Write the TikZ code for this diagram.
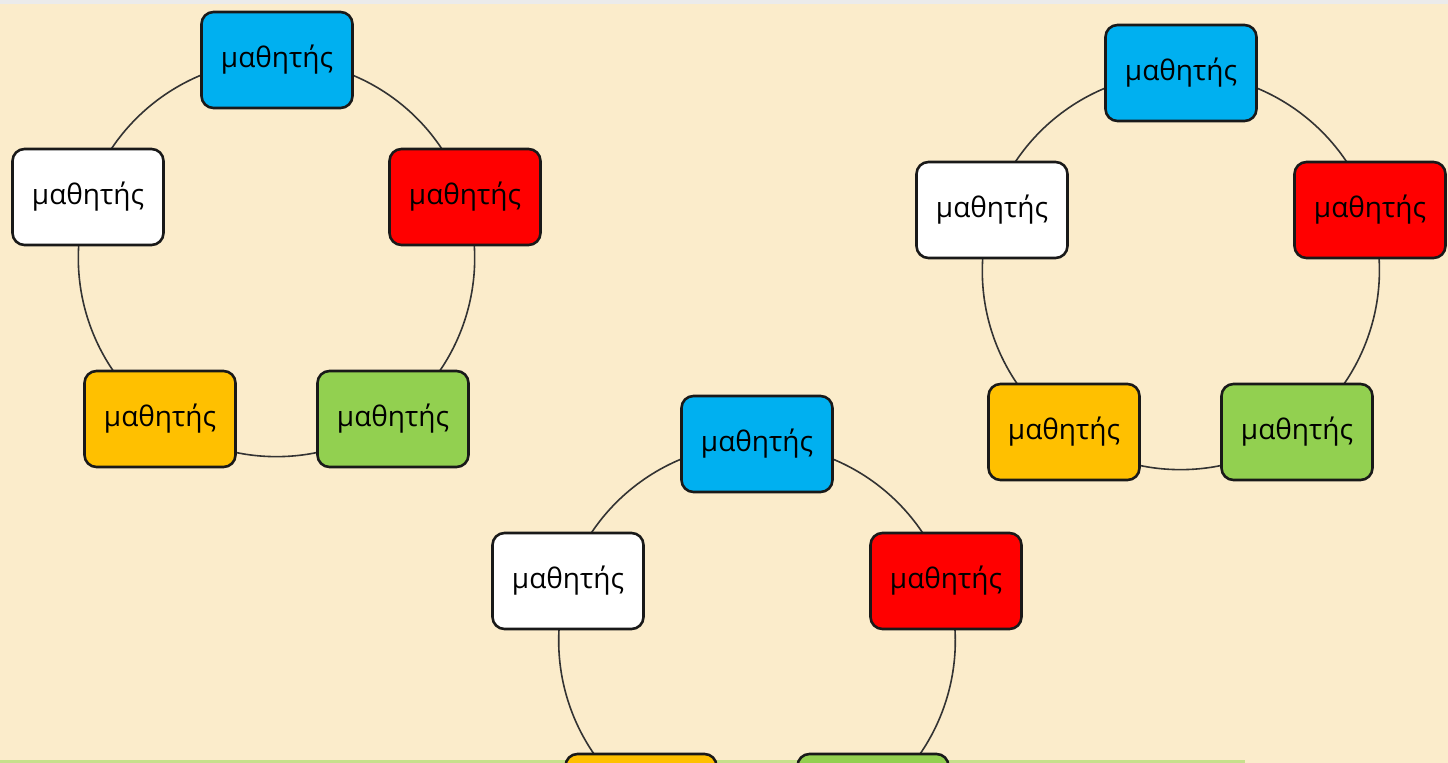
\documentclass[tikz,border=0pt]{standalone}
\usepackage{fontspec}
\setmainfont{Open Sans}
\definecolor{paper}{HTML}{FBECCB}
\definecolor{pupilblue}{HTML}{00B0F0}
\definecolor{pupilred}{HTML}{FF0000}
\definecolor{pupilyellow}{HTML}{FFC000}
\definecolor{pupilgreen}{HTML}{92D050}
\definecolor{stripgreen}{HTML}{C6E08C}
\pgfdeclarelayer{background}
\pgfdeclarelayer{ring}
\pgfsetlayers{background,ring,main}

\begin{document}
\begin{tikzpicture}[x=0.5pt, y=-0.5pt,
    pupil/.style={draw=black!90, line width=1.3pt, rounded corners=6pt,
      minimum width=75.5pt, minimum height=48pt, inner sep=0pt,
      font=\fontsize{14}{16}\selectfont, text=black},
    link/.style={draw=black!80, line width=0.8pt, bend left=36, looseness=0.94}]
      \useasboundingbox (0,0) rectangle (1448,763);
      \begin{pgfonlayer}{background}
        \fill [paper] (0,0) rectangle (1448,763);
        \fill [black!8] (0,0) rectangle (1448,4);
        \fill [stripgreen] (0,760) rectangle (1245,763);
      \end{pgfonlayer}
      \clip (0,0) rectangle (1448,763);

      \node [pupil, fill=pupilblue]   (blue1)   at (277,60)  {μαθητής};
      \node [pupil, fill=pupilred]    (red1)    at (465,197) {μαθητής};
      \node [pupil, fill=pupilgreen]  (green1)  at (393,419) {μαθητής};
      \node [pupil, fill=pupilyellow] (yellow1) at (160,419) {μαθητής};
      \node [pupil, fill=white]       (white1)  at (88,197)  {μαθητής};

      \node [pupil, fill=pupilblue]   (blue2)   at (1181,73)  {μαθητής};
      \node [pupil, fill=pupilred]    (red2)    at (1370,210) {μαθητής};
      \node [pupil, fill=pupilgreen]  (green2)  at (1297,432) {μαθητής};
      \node [pupil, fill=pupilyellow] (yellow2) at (1064,432) {μαθητής};
      \node [pupil, fill=white]       (white2)  at (992,210)  {μαθητής};

      \node [pupil, fill=pupilblue]   (blue3)   at (757,444) {μαθητής};
      \node [pupil, fill=pupilred]    (red3)    at (946,581) {μαθητής};
      \node [pupil, fill=pupilgreen]  (green3)  at (873,802) {μαθητής};
      \node [pupil, fill=pupilyellow] (yellow3) at (641,802) {μαθητής};
      \node [pupil, fill=white]       (white3)  at (568,581) {μαθητής};

      \begin{pgfonlayer}{ring}
        \clip (0,0) rectangle (1448,763);
        \draw [link] (blue1.center) to (red1.center) to (green1.center)
          to (yellow1.center) to (white1.center) to (blue1.center);
        \draw [link] (blue2.center) to (red2.center) to (green2.center)
          to (yellow2.center) to (white2.center) to (blue2.center);
        \draw [link] (blue3.center) to (red3.center) to (green3.center)
          to (yellow3.center) to (white3.center) to (blue3.center);
      \end{pgfonlayer}
    \end{tikzpicture}
\end{document}
